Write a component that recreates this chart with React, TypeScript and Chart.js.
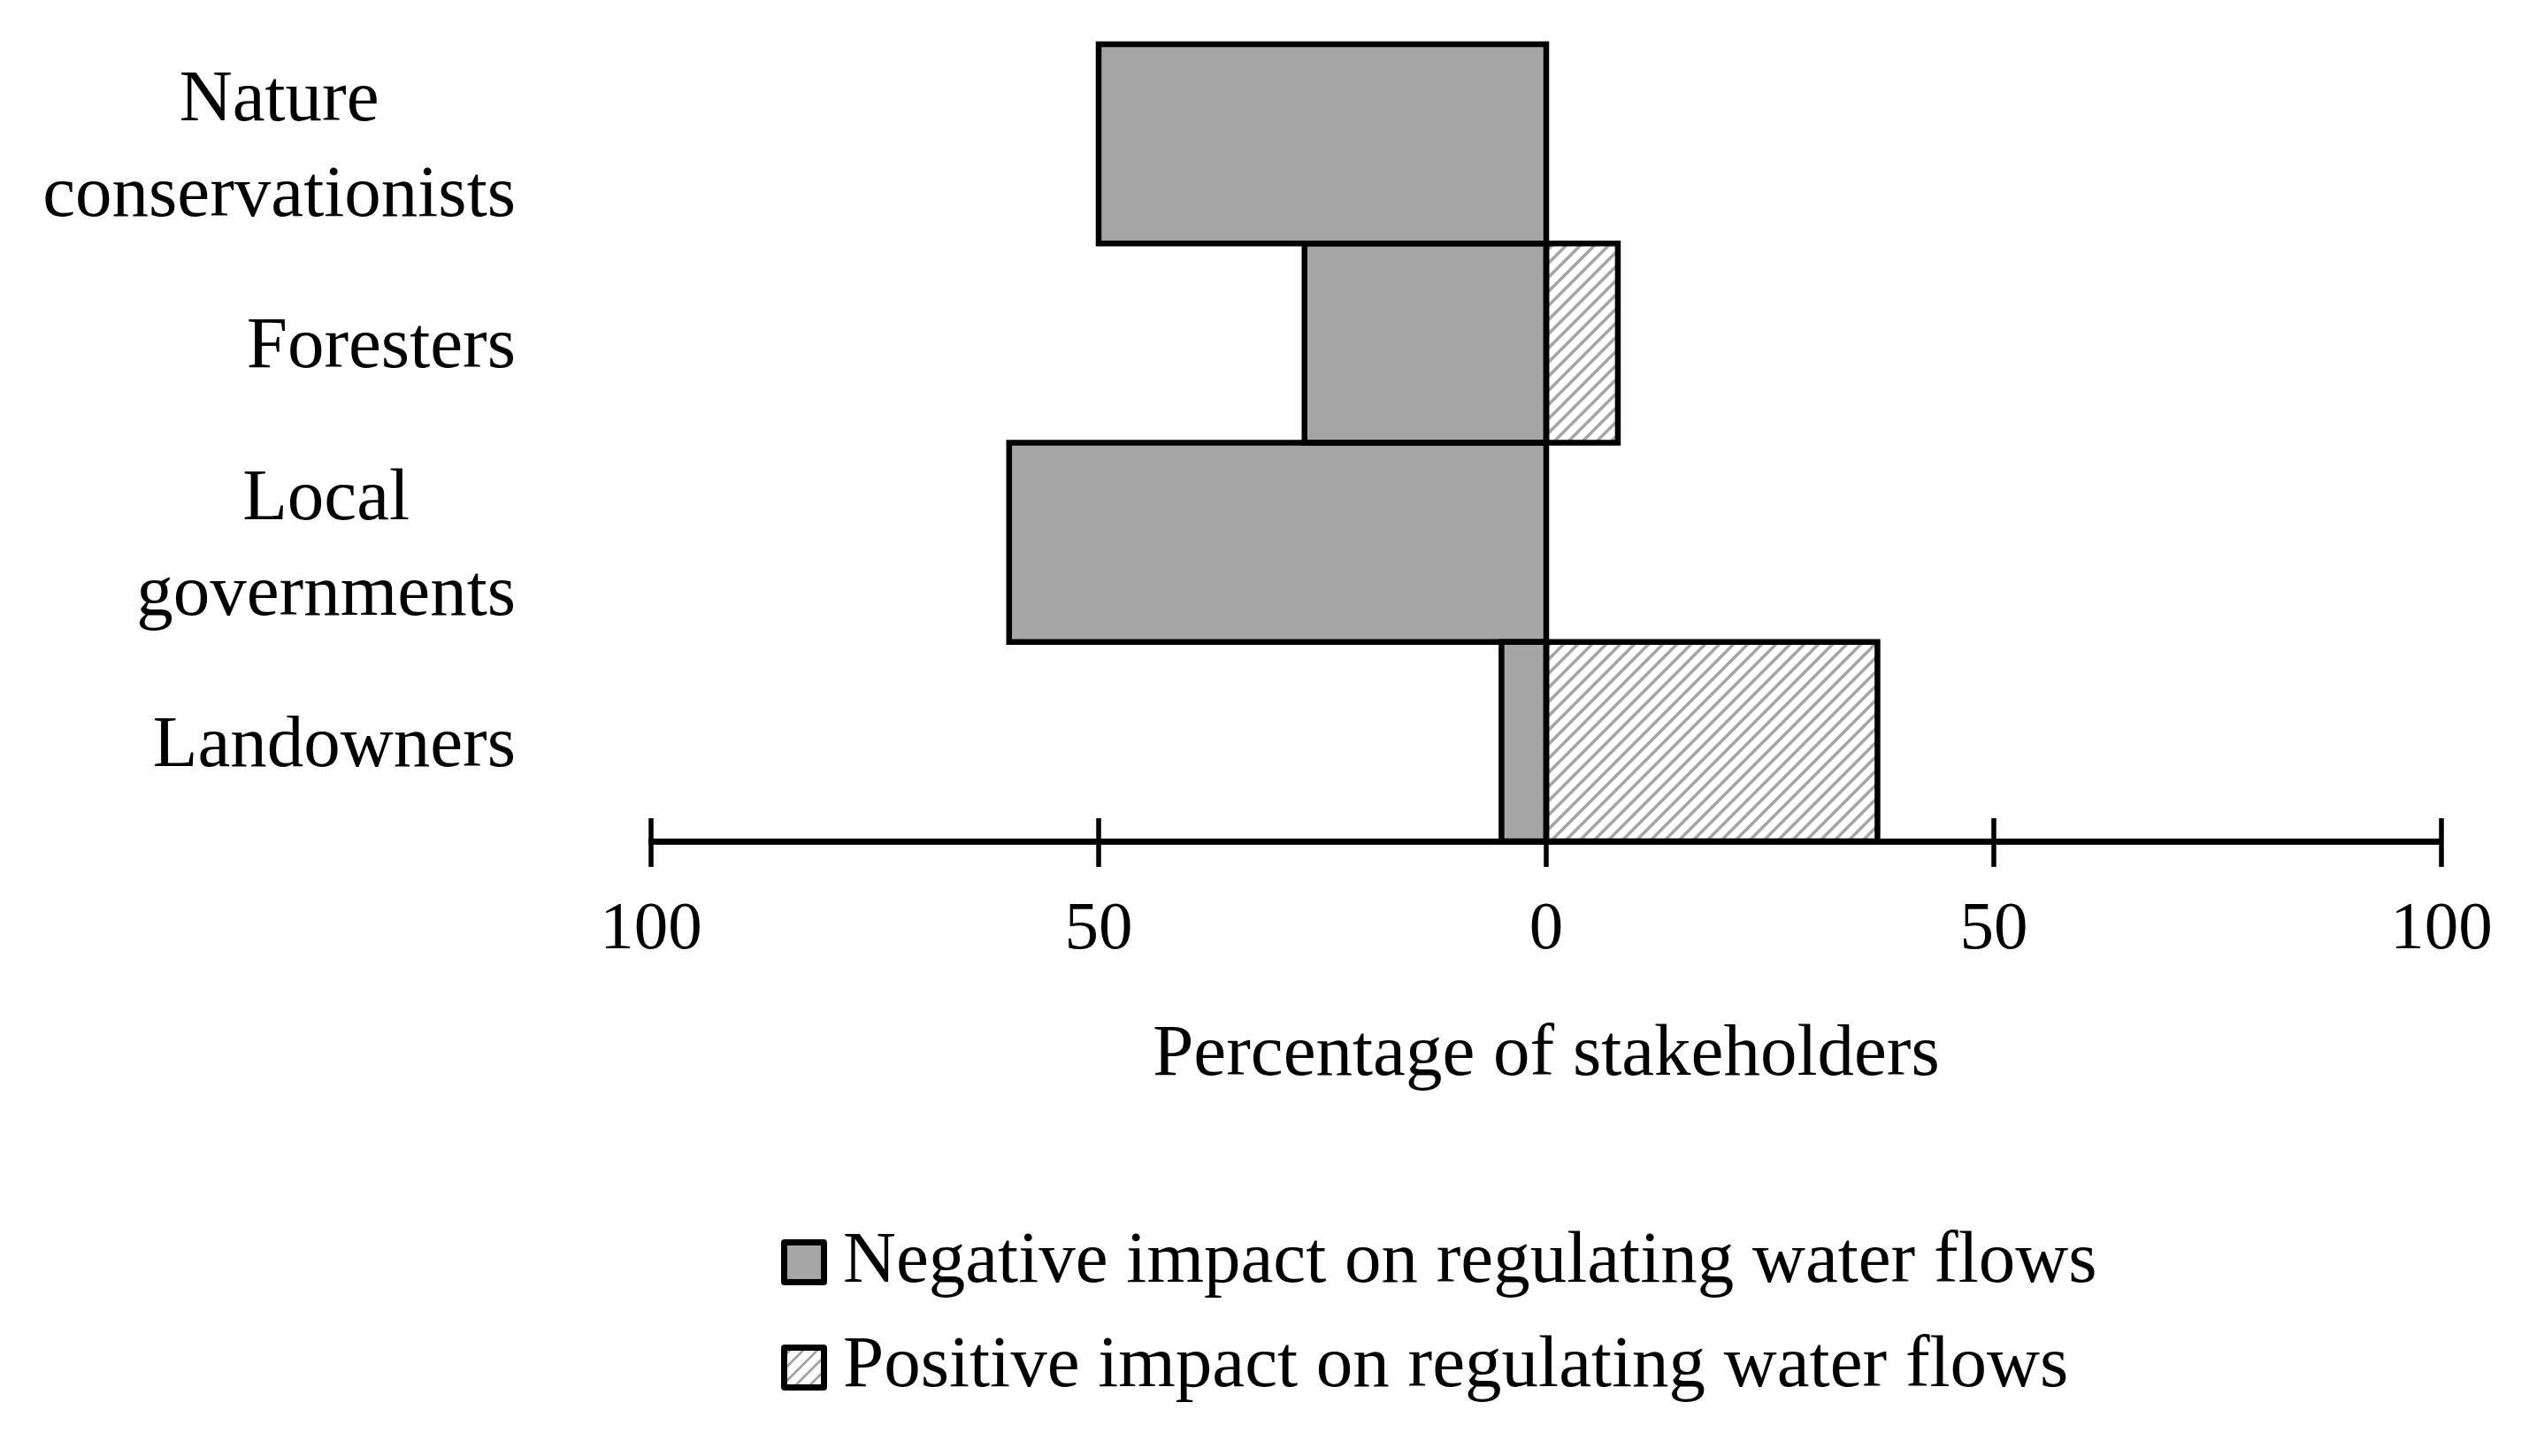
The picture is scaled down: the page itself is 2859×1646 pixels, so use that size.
import React, { useEffect, useRef } from 'react';
import { Chart, registerables } from 'chart.js';

Chart.register(...registerables);

const categories: string[][] = [
  ['Nature', 'conservationists'],
  ['Foresters'],
  ['Local', 'governments'],
  ['Landowners'],
];
const negativeValues = [50, 27, 60, 5];
const positiveValues = [0, 8, 0, 37];
const tickLabels = ['100', '50', '0', '50', '100'];
const seriesLabels = [
  'Negative impact on regulating water flows',
  'Positive impact on regulating water flows',
];
const axisTitle = 'Percentage of stakeholders';

const W = 2859;
const H = 1646;
const FONT = '"Liberation Serif", "Times New Roman", serif';
const FS = 83;
const TICK_FS = 77;
const GREY = '#a6a6a6';

export default function App() {
  const ref = useRef<HTMLCanvasElement>(null);

  useEffect(() => {
    document.body.style.margin = '0';
    const canvas = ref.current!;
    const pc = document.createElement('canvas');
    pc.width = 16;
    pc.height = 16;
    const p = pc.getContext('2d')!;
    p.fillStyle = '#fff';
    p.fillRect(0, 0, 16, 16);
    p.strokeStyle = GREY;
    p.lineWidth = 3.5;
    p.beginPath();
    p.moveTo(-4, 20); p.lineTo(20, -4);
    p.moveTo(-4, 4); p.lineTo(4, -4);
    p.moveTo(12, 20); p.lineTo(20, 12);
    p.stroke();
    const pattern = canvas.getContext('2d')!.createPattern(pc, 'repeat')!;

    const decor = {
      id: 'decor',
      afterDatasetsDraw(chart: any) {
        const ctx = chart.ctx as CanvasRenderingContext2D;
        ctx.save();
        ctx.strokeStyle = '#000';
        ctx.lineWidth = 6.5;
        ctx.lineJoin = 'miter';
        chart.data.datasets.forEach((_d: any, di: number) => {
          const meta = chart.getDatasetMeta(di);
          meta.data.forEach((el: any) => {
            const { x, y, base, height } = el.getProps(['x', 'y', 'base', 'height'], true);
            const left = Math.min(x, base);
            const w = Math.abs(x - base);
            if (w < 0.5) return;
            ctx.strokeRect(left, y - height / 2, w, height);
          });
        });
        ctx.restore();
      },
      afterDraw(chart: any) {
        const ctx = chart.ctx as CanvasRenderingContext2D;
        const xs = chart.scales.x;
        const ys = chart.scales.y;
        const yb = chart.chartArea.bottom;
        ctx.save();
        ctx.strokeStyle = '#000';
        ctx.lineWidth = 5.5;
        xs.ticks.forEach((_t: any, i: number) => {
          const px = xs.getPixelForTick(i);
          ctx.beginPath();
          ctx.moveTo(px, yb - 26);
          ctx.lineTo(px, yb + 29);
          ctx.stroke();
        });
        ctx.fillStyle = '#000';
        ctx.font = `${FS}px ${FONT}`;
        ctx.textBaseline = 'alphabetic';
        ctx.textAlign = 'center';
        const right = 583;
        const lineGap = 108;
        const capH = FS * 0.662;
        categories.forEach((lines, i) => {
          const cy = ys.getPixelForValue(i);
          const maxW = Math.max(...lines.map((l) => ctx.measureText(l).width));
          const cx = right - maxW / 2;
          const n = lines.length;
          const firstBase = cy + capH / 2 - ((n - 1) * lineGap) / 2;
          lines.forEach((l, k) => {
            ctx.fillText(l, cx, firstBase + k * lineGap);
          });
        });
        ctx.restore();
      },
    };

    const chart = new Chart(canvas, {
      type: 'bar',
      data: {
        labels: categories.map((c) => c.join(' ')),
        datasets: [
          {
            label: seriesLabels[0],
            data: negativeValues.map((v) => -v),
            backgroundColor: GREY,
            borderWidth: 0,
            barPercentage: 1,
            categoryPercentage: 1,
          },
          {
            label: seriesLabels[1],
            data: positiveValues,
            backgroundColor: pattern as any,
            borderWidth: 0,
            barPercentage: 1,
            categoryPercentage: 1,
          },
        ],
      },
      options: {
        indexAxis: 'y',
        animation: false,
        responsive: false,
        devicePixelRatio: 1,
        layout: { padding: { left: 736, right: 99, top: 50, bottom: 411 } },
        plugins: { legend: { display: false }, tooltip: { enabled: false } },
        scales: {
          x: {
            stacked: true,
            min: -100,
            max: 100,
            afterFit: (s: any) => {
              s.paddingLeft = 0;
              s.paddingRight = 0;
            },
            grid: { display: false, drawTicks: false },
            border: { display: true, color: '#000', width: 7 },
            ticks: {
              stepSize: 50,
              padding: 62,
              color: '#000',
              font: { family: FONT, size: TICK_FS, lineHeight: 1 },
              callback: (_v: any, i: number) => tickLabels[i],
              maxRotation: 0,
            },
            title: {
              display: true,
              text: axisTitle,
              color: '#000',
              font: { family: FONT, size: FS, lineHeight: 1 },
              padding: { top: 0, bottom: 0 },
            },
          },
          y: {
            stacked: true,
            display: false,
          },
        },
      },
      plugins: [decor],
    });
    return () => chart.destroy();
  }, []);

  const textStyle: React.CSSProperties = {
    position: 'absolute',
    left: 953,
    fontFamily: FONT,
    fontSize: FS,
    lineHeight: 1,
    whiteSpace: 'nowrap',
    color: '#000',
  };
  const boxStyle: React.CSSProperties = {
    position: 'absolute',
    left: 883,
    width: 52,
    height: 52,
    boxSizing: 'border-box',
    border: '7px solid #000',
    borderRadius: 4,
  };

  return (
    <div style={{ position: 'relative', width: W, height: H, overflow: 'hidden', background: '#fff' }}>
      <canvas ref={ref} width={W} height={H} style={{ width: W, height: H, display: 'block' }} />
      <div style={{ ...boxStyle, top: 1401, background: GREY }} />
      <div style={{ ...textStyle, top: 1380 }}>{seriesLabels[0]}</div>
      <div
        style={{
          ...boxStyle,
          top: 1520,
          background: `repeating-linear-gradient(135deg, ${GREY} 0 3px, #fff 3px 11px)`,
        }}
      />
      <div style={{ ...textStyle, top: 1498 }}>{seriesLabels[1]}</div>
    </div>
  );
}
